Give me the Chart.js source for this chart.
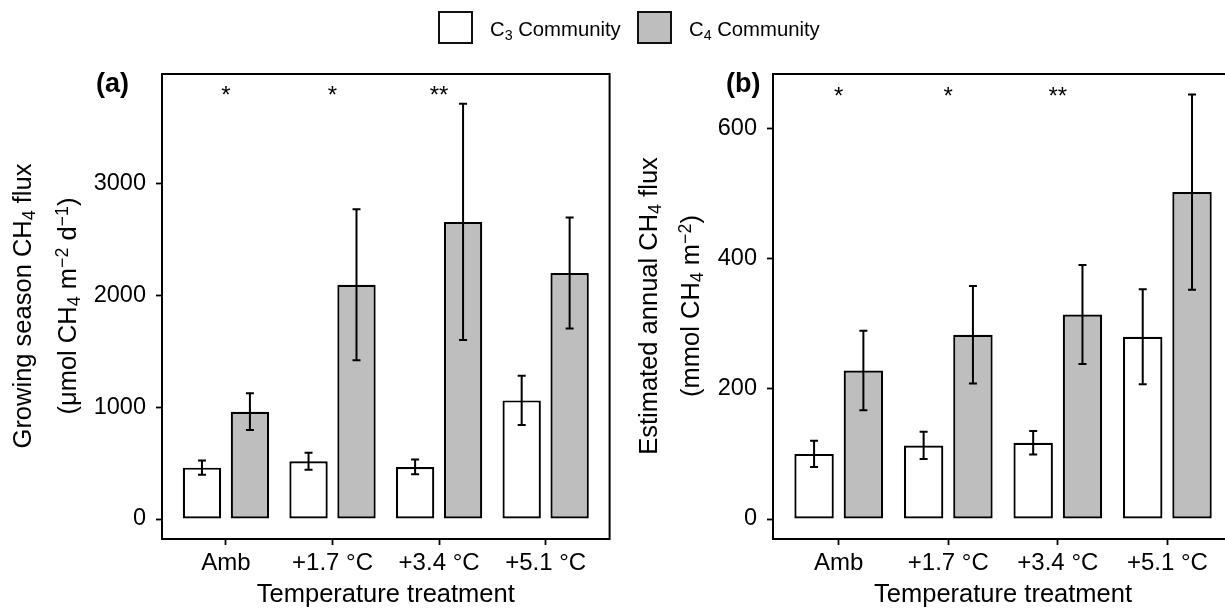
<!DOCTYPE html>
<html>
<head>
<meta charset="utf-8">
<script src="https://cdn.jsdelivr.net/npm/chart.js@4.4.1/dist/chart.umd.min.js"></script>
<style>
  html, body { margin: 0; padding: 0; background: #fff; overflow: hidden; }
  #wrap { position: relative; width: 1225px; height: 609px; overflow: hidden;
          font-family: "Liberation Sans", Arial, sans-serif; color: #000; }
  canvas { position: absolute; top: 0; }
  #chartA { left: 0; }
  #chartB { left: 612px; }
  .key { position: absolute; top: 11px; width: 35px; height: 33px; box-sizing: border-box; border: 2px solid #111; }
  .keyText { position: absolute; top: 19px; font-size: 20.3px; line-height: 1; white-space: nowrap; }
  .tag { position: absolute; top: 70px; font-size: 27px; font-weight: bold; line-height: 1; }
  .ytitle { position: absolute; top: 306px; font-size: 25.5px; line-height: 1.15; white-space: nowrap;
            transform: translate(-50%, -50%) rotate(-90deg); }
  .sub { position: relative; top: 0.25em; font-size: 0.7em; }
  .sup { position: relative; top: -0.45em; font-size: 0.7em; }
</style>
</head>
<body>
<div id="wrap">
  <canvas id="chartA" width="615" height="609"></canvas>
  <canvas id="chartB" width="625" height="609"></canvas>

  <!-- leyenda -->
  <div class="key" style="left:438px; background:#fff;"></div>
  <div class="keyText" style="left:490px;">C<span class="sub">3</span> Community</div>
  <div class="key" style="left:637px; background:#bebebe;"></div>
  <div class="keyText" style="left:689px;">C<span class="sub">4</span> Community</div>

  <div class="tag" style="left:96px;">(a)</div>
  <div class="tag" style="left:726px;">(b)</div>

  <div class="ytitle" style="left:23px;">Growing season CH<span class="sub">4</span> flux</div>
  <div class="ytitle" style="left:68px;">(μmol CH<span class="sub">4</span> m<span class="sup">−2</span> d<span class="sup">−1</span>)</div>
  <div class="ytitle" style="left:649px;">Estimated annual CH<span class="sub">4</span> flux</div>
  <div class="ytitle" style="left:691px;">(mmol CH<span class="sub">4</span> m<span class="sup">−2</span>)</div>
</div>

<script>
// Categorías y ticks
const categories = ["Amb", "+1.7 °C", "+3.4 °C", "+5.1 °C"];
const seasonTicks = [0, 1000, 2000, 3000];
const annualTicks = [0, 200, 400, 600];

// (a) flujo de la temporada de crecimiento (µmol CH4 m-2 d-1): media y SE
const c3Season = [460, 517, 466, 1062];
const c3SeasonSE = [64, 76, 66, 220];
const c4Season = [961, 2098, 2660, 2203];
const c4SeasonSE = [165, 676, 1058, 497];

// (b) flujo anual estimado (mmol CH4 m-2): media y SE
const c3Annual = [100, 113, 117, 280];
const c3AnnualSE = [20, 21, 18, 73];
const c4Annual = [228, 283, 314, 502];
const c4AnnualSE = [61, 75, 76, 150];

// significancia C3 vs C4
const sigMarks = ["*", "*", "**", ""];

const FONT = '"Liberation Sans", Arial, sans-serif';
Chart.defaults.font.family = FONT;
Chart.defaults.color = "#000";

function toPoints(values) {
  return values.map((v, i) => ({ x: i + 1, y: v }));
}

// barras de error (media ± SE)
const errorBars = {
  id: "errorBars",
  afterDatasetsDraw(chart) {
    const ctx = chart.ctx;
    const y = chart.scales.y;
    ctx.save();
    ctx.strokeStyle = "#000";
    ctx.lineWidth = 2;
    chart.data.datasets.forEach((ds, di) => {
      const meta = chart.getDatasetMeta(di);
      meta.data.forEach((bar, i) => {
        const v = ds.data[i].y;
        const e = ds.se[i];
        const top = y.getPixelForValue(v + e);
        const bot = y.getPixelForValue(v - e);
        const x = bar.x;
        ctx.beginPath();
        ctx.moveTo(x, top); ctx.lineTo(x, bot);
        ctx.moveTo(x - 4, top); ctx.lineTo(x + 4, top);
        ctx.moveTo(x - 4, bot); ctx.lineTo(x + 4, bot);
        ctx.stroke();
      });
    });
    ctx.restore();
  }
};

// asteriscos
const sigStars = {
  id: "sigStars",
  afterDatasetsDraw(chart, args, opts) {
    const ctx = chart.ctx;
    const size = 24;
    ctx.save();
    ctx.fillStyle = "#000";
    ctx.font = size + "px " + FONT;
    ctx.textAlign = "center";
    ctx.textBaseline = "middle";
    const yPix = chart.scales.y.getPixelForValue(opts.level) + 0.22 * size;
    opts.marks.forEach((m, i) => {
      if (m) ctx.fillText(m, chart.scales.x.getPixelForValue(i + 1), yPix);
    });
    ctx.restore();
  }
};

// marco del panel
const frame = {
  id: "frame",
  afterDraw(chart) {
    const { ctx, chartArea: a } = chart;
    ctx.save();
    ctx.strokeStyle = "#000";
    ctx.lineWidth = 2;
    ctx.strokeRect(a.left, a.top, a.right - a.left, a.bottom - a.top);
    ctx.restore();
  }
};

function makeChart(id, cfg) {
  return new Chart(document.getElementById(id), {
    type: "bar",
    data: {
      datasets: [
        { label: "C3 Community", data: toPoints(cfg.c3), se: cfg.c3se, backgroundColor: "#ffffff" },
        { label: "C4 Community", data: toPoints(cfg.c4), se: cfg.c4se, backgroundColor: "#bebebe" }
      ]
    },
    options: {
      responsive: false,
      animation: false,
      events: [],
      datasets: {
        bar: {
          borderColor: "#000",
          borderWidth: 2.2,
          borderSkipped: false,
          categoryPercentage: 0.9,
          barPercentage: 0.8
        }
      },
      layout: { padding: { top: 74, right: cfg.padRight, left: 0, bottom: 0 } },
      plugins: {
        legend: { display: false },
        tooltip: { enabled: false },
        sigStars: { marks: sigMarks, level: cfg.starLevel }
      },
      scales: {
        x: {
          type: "linear",
          min: 0.4,
          max: 4.6,
          offset: false,
          afterBuildTicks: (axis) => { axis.ticks = categories.map((c, i) => ({ value: i + 1 })); },
          afterFit: (axis) => { axis.height = 70; },
          ticks: {
            callback: (v) => categories[v - 1],
            autoSkip: false,
            maxRotation: 0,
            color: "#000",
            font: { size: 24 },
            padding: 4
          },
          grid: { drawOnChartArea: false, offset: false, tickLength: 6, tickColor: "#000", tickWidth: 1.8 },
          border: { display: false },
          title: {
            display: true,
            text: "Temperature treatment",
            color: "#000",
            font: { size: 25.5, lineHeight: 1.1 },
            padding: 0
          }
        },
        y: {
          type: "linear",
          min: cfg.yMin,
          max: cfg.yMax,
          afterBuildTicks: (axis) => { axis.ticks = cfg.ticks.map((v) => ({ value: v })); },
          afterFit: (axis) => { axis.width = cfg.axisWidth; },
          ticks: {
            callback: (v) => String(v),
            color: "#000",
            font: { size: 23.5 },
            padding: 10
          },
          grid: { drawOnChartArea: false, tickLength: 6, tickColor: "#000", tickWidth: 1.8 },
          border: { display: false }
        }
      }
    },
    plugins: [errorBars, sigStars, frame]
  });
}

window.addEventListener("load", () => {
  makeChart("chartA", {
    c3: c3Season, c3se: c3SeasonSE, c4: c4Season, c4se: c4SeasonSE,
    ticks: seasonTicks, yMin: -179, yMax: 3985, starLevel: 3831,
    axisWidth: 162, padRight: 5.4
  });
  makeChart("chartB", {
    c3: c3Annual, c3se: c3AnnualSE, c4: c4Annual, c4se: c4AnnualSE,
    ticks: annualTicks, yMin: -30.7, yMax: 683.4, starLevel: 655,
    axisWidth: 161, padRight: 3.9
  });
});
</script>
</body>
</html>
